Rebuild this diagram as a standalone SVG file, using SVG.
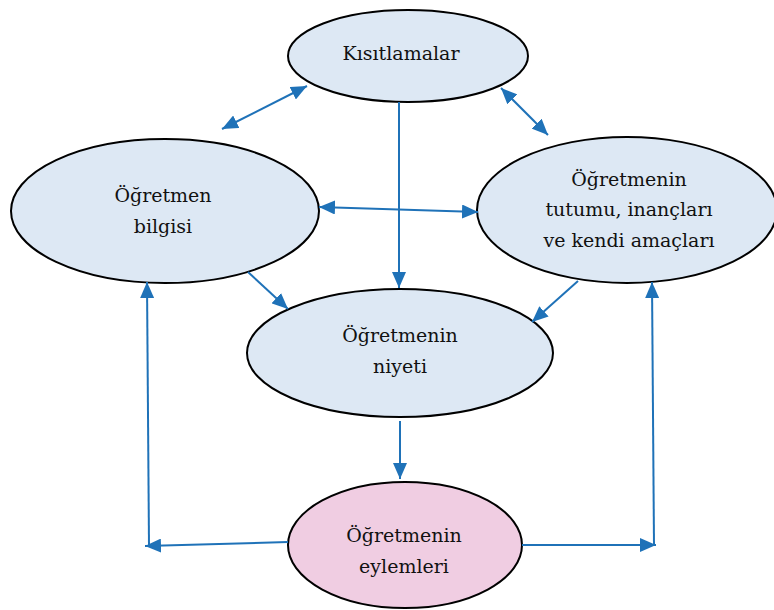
<svg xmlns="http://www.w3.org/2000/svg" width="774" height="610" viewBox="0 0 774 610">
<defs>
<style>
.n{fill:#dde8f4;stroke:#000;stroke-width:2}
.p{fill:#f0cde2;stroke:#000;stroke-width:2}
.t{font-family:"DejaVu Serif","Liberation Serif",serif;font-size:19px;fill:#111;text-anchor:middle}
.c{stroke:#1f72b8;stroke-width:2;fill:none}
</style>
<marker id="ah" viewBox="0 0 16 14" refX="16" refY="7" markerWidth="16" markerHeight="14" markerUnits="userSpaceOnUse" orient="auto-start-reverse">
<path d="M0,0 L16,7 L0,14 z" fill="#1f72b8"/>
</marker>
</defs>
<rect width="774" height="610" fill="#fff"/>
<g id="kisitlamalar">
<ellipse class="n" cx="408" cy="56" rx="120" ry="46"/>
<text class="t" x="401" y="60">Kısıtlamalar</text>
</g>
<g id="bilgisi">
<ellipse class="n" cx="165" cy="211" rx="154" ry="72"/>
<text class="t" x="163" y="202">Öğretmen</text>
<text class="t" x="163" y="233">bilgisi</text>
</g>
<g id="tutumu">
<ellipse class="n" cx="627" cy="210" rx="150" ry="73"/>
<text class="t" x="629" y="186">Öğretmenin</text>
<text class="t" x="629" y="216">tutumu, inançları</text>
<text class="t" x="629" y="247">ve kendi amaçları</text>
</g>
<g id="niyeti">
<ellipse class="n" cx="400" cy="353" rx="153" ry="64"/>
<text class="t" x="400" y="342">Öğretmenin</text>
<text class="t" x="400" y="373">niyeti</text>
</g>
<g id="eylemleri">
<ellipse class="p" cx="405" cy="545" rx="117" ry="63"/>
<text class="t" x="404" y="542">Öğretmenin</text>
<text class="t" x="404" y="573">eylemleri</text>
</g>
<g id="connectors">
<line class="c" x1="222" y1="129" x2="307" y2="86" marker-start="url(#ah)" marker-end="url(#ah)"/>
<line class="c" x1="501" y1="88" x2="548" y2="135" marker-start="url(#ah)" marker-end="url(#ah)"/>
<line class="c" x1="319" y1="207" x2="478" y2="212" marker-start="url(#ah)" marker-end="url(#ah)"/>
<line class="c" x1="399" y1="102" x2="399" y2="288" marker-end="url(#ah)"/>
<line class="c" x1="248" y1="272" x2="288" y2="309" marker-end="url(#ah)"/>
<line class="c" x1="578" y1="281" x2="532" y2="322" marker-end="url(#ah)"/>
<line class="c" x1="400" y1="421" x2="400" y2="479" marker-end="url(#ah)"/>
<line class="c" x1="288" y1="542" x2="145" y2="546" marker-end="url(#ah)"/>
<line class="c" x1="149" y1="546" x2="147" y2="282" marker-end="url(#ah)"/>
<line class="c" x1="522" y1="545" x2="656" y2="545" marker-end="url(#ah)"/>
<line class="c" x1="654" y1="545" x2="652" y2="282" marker-end="url(#ah)"/>
</g>
</svg>
